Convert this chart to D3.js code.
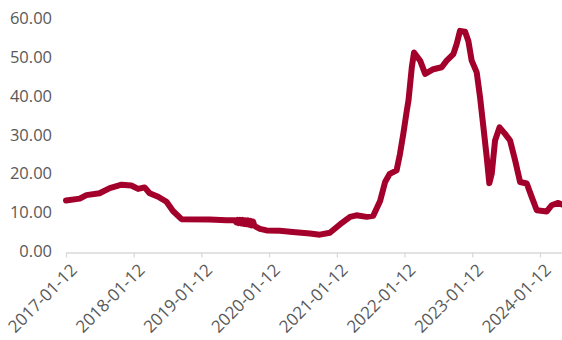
<!DOCTYPE html>
<html>
<head>
<meta charset="utf-8">
<script src="https://cdn.jsdelivr.net/npm/d3@7/dist/d3.min.js"></script>
<style>
  html, body { margin: 0; padding: 0; background: #fff; }
  svg { display: block; }
</style>
</head>
<body>
<svg id="chart" width="562" height="340"></svg>
<script>
// Weekly observations (sampled), date and value
const dates = [
  "2017-01-12","2017-03-27","2017-05-02","2017-07-12","2017-09-05","2017-11-08",
  "2017-12-30","2018-02-05","2018-03-12","2018-04-08","2018-05-24","2018-07-08",
  "2018-08-12","2018-09-27","2019-02-26","2019-05-27","2019-07-12","2019-07-19",
  "2019-07-26","2019-08-02","2019-08-09","2019-08-16","2019-08-23","2019-08-30",
  "2019-09-06","2019-09-13","2019-09-20","2019-09-27","2019-10-04","2019-10-11",
  "2019-10-18","2019-10-25","2019-11-01","2019-11-24","2019-12-30","2020-03-10",
  "2020-05-18","2020-08-20","2020-10-12","2020-12-05","2021-01-30","2021-03-24",
  "2021-04-27","2021-06-21","2021-07-27","2021-09-02","2021-09-29","2021-10-24",
  "2021-11-30","2021-12-18","2022-01-05","2022-01-24","2022-02-02","2022-02-20",
  "2022-03-04","2022-04-06","2022-05-03","2022-06-16","2022-07-31","2022-08-27",
  "2022-10-02","2022-10-20","2022-11-07","2022-12-04","2022-12-22","2023-01-09",
  "2023-02-05","2023-02-23","2023-03-13","2023-03-31","2023-04-14","2023-04-27",
  "2023-05-15","2023-06-08","2023-07-08","2023-08-04","2023-08-31","2023-09-27",
  "2023-11-02","2023-11-29","2023-12-26","2024-02-18","2024-03-15","2024-04-20",
  "2024-05-10"
];
const values = [
  13.4, 13.9, 14.8, 15.3, 16.6, 17.5,
  17.3, 16.4, 16.8, 15.3, 14.4, 13.1,
  10.7, 8.6, 8.5, 8.3, 8.3, 7.8,
  8.4, 7.6, 8.4, 7.5, 8.4, 7.4,
  8.3, 7.3, 8.3, 7.2, 8.2, 7.0,
  8.0, 6.9, 6.7, 6.1, 5.7, 5.6,
  5.3, 4.9, 4.6, 5.1, 7.3, 9.2,
  9.6, 9.2, 9.5, 13.3, 18.2, 20.3,
  21.2, 25.4, 30.6, 36.6, 39.2, 47.8,
  51.6, 49.5, 46.1, 47.3, 47.8, 49.5,
  51.2, 53.8, 57.2, 57.0, 54.6, 49.5,
  46.5, 40.1, 32.4, 24.6, 17.9, 20.3,
  28.9, 32.3, 30.6, 28.9, 23.8, 18.2,
  17.8, 14.3, 10.9, 10.6, 12.2, 12.8,
  12.4
];

// Axis ticks
const xTickLabels = ["2017-01-12","2018-01-12","2019-01-12","2020-01-12",
                     "2021-01-12","2022-01-12","2023-01-12","2024-01-12"];
const yTickValues = [0, 10, 20, 30, 40, 50, 60];

const parse = d3.timeParse("%Y-%m-%d");
const fmtY = d3.format(".2f");
const series = dates.map((d, i) => ({ date: parse(d), value: values[i] }));

const svg = d3.select("#chart");
const font = "'Open Sans', sans-serif";
const textColor = "#595959";
const axisColor = "#d9d9d9";

const x = d3.scaleTime()
  .domain([parse("2017-01-12"), parse("2024-05-10")])
  .range([66, 562]);

const y = d3.scaleLinear()
  .domain([0, 60])
  .range([252.5, 20]);

// X axis
const xAxis = svg.append("g")
  .attr("transform", `translate(0,${y(0)})`)
  .call(d3.axisBottom(x)
    .tickValues(xTickLabels.map(parse))
    .tickSize(5)
    .tickSizeOuter(0)
    .tickFormat(d3.timeFormat("%Y-%m-%d")));
xAxis.select(".domain").attr("stroke", axisColor).attr("stroke-width", 1.3);
xAxis.selectAll(".tick line").attr("stroke", axisColor).attr("stroke-width", 1.3);
xAxis.selectAll(".tick text")
  .attr("fill", textColor)
  .style("font-family", font)
  .style("font-size", "17px")
  .attr("text-anchor", "end")
  .attr("dy", null)
  .attr("y", null)
  .attr("transform", "translate(7,14) rotate(-45)")
  .attr("dominant-baseline", "central");

// Y axis labels (no axis line)
const yAxis = svg.append("g")
  .attr("transform", "translate(52,0)")
  .call(d3.axisLeft(y).tickValues(yTickValues).tickSize(0).tickPadding(0).tickFormat(fmtY));
yAxis.select(".domain").remove();
yAxis.selectAll(".tick text")
  .attr("fill", textColor)
  .style("font-family", font)
  .style("font-size", "16.5px")
  .attr("dy", "0.32em")
  .attr("y", -1.5);

// Series line
const line = d3.line()
  .x(d => x(d.date))
  .y(d => y(d.value));

svg.append("path")
  .datum(series)
  .attr("fill", "none")
  .attr("stroke", "#a3002b")
  .attr("stroke-width", 6)
  .attr("stroke-linejoin", "round")
  .attr("stroke-linecap", "round")
  .attr("d", line);
</script>
</body>
</html>
